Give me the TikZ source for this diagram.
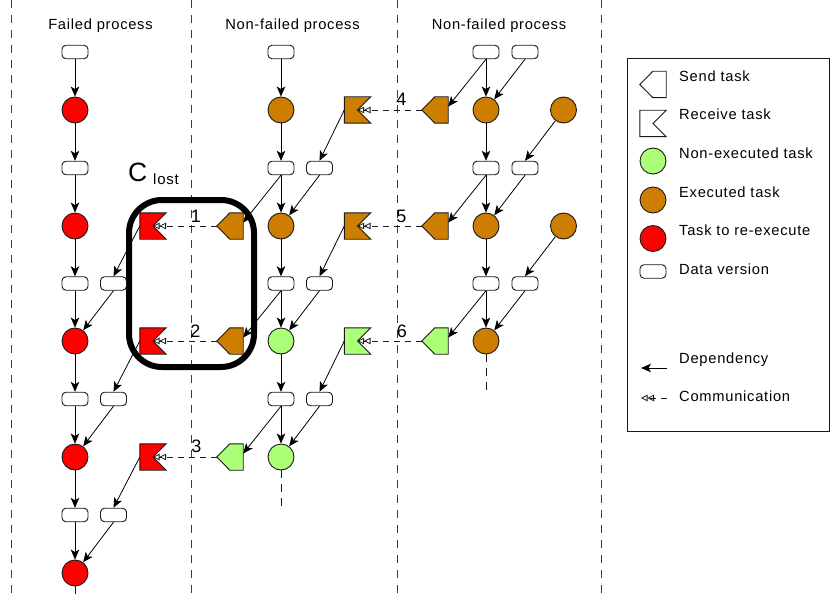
\documentclass[tikz,border=0pt]{standalone}
\usepackage{fontspec}
\setmainfont{Liberation Sans}[LetterSpace=5]
\usetikzlibrary{arrows.meta,calc}
\definecolor{tred}{RGB}{255,0,0}
\definecolor{torange}{RGB}{205,125,0}
\definecolor{tgreen}{RGB}{170,255,119}
\definecolor{ink}{RGB}{25,25,25}
% send task: pentagon pointing left; receive task: box with a notch on the right
\newcommand\mksend[3]{%
  \node[tbox] (#1) at (#2) {};
  \draw[shp, fill=#3] (#1.north east) -- (#1.south east) -- ([xshift=13pt]#1.south west) -- (#1.west) -- ([xshift=13pt]#1.north west) -- cycle;}
\newcommand\mkrecv[3]{%
  \node[tbox] (#1) at (#2) {};
  \draw[shp, fill=#3] (#1.north west) -- (#1.north east) -- (#1.center) -- (#1.south east) -- (#1.south west) -- cycle;}
\begin{document}
\begin{tikzpicture}[x=1pt,y=-1pt,
  every node/.style={font=\fontsize{14.7}{17}\selectfont},
  shp/.style={draw=ink, line width=0.9pt, line join=miter},
  tbox/.style={rectangle, minimum width=26pt, minimum height=26pt, inner sep=0pt},
  dv/.style={draw=ink, line width=0.9pt, rectangle, rounded corners=4pt, minimum width=26pt, minimum height=13.5pt, inner sep=0pt, fill=white},
  task/.style={draw=ink, line width=0.9pt, circle, minimum size=26pt, inner sep=0pt},
  fr/.style={fill=tred}, fo/.style={fill=torange}, fg/.style={fill=tgreen},
  dep/.style={draw=black, line width=0.8pt, -{Stealth[length=10pt,width=8.5pt,inset=2.5pt]}},
  comm/.style={draw=ink, line width=0.8pt, dash pattern=on 6pt off 5pt, -{Triangle[open,length=6.5pt,width=6.5pt,sep=0pt]Triangle[open,length=6.5pt,width=6.5pt]}},
  stub/.style={draw=ink, line width=0.8pt, dash pattern=on 8pt off 6pt},
  sep/.style={draw=ink!85, line width=0.9pt, dash pattern=on 8pt off 7pt},
  num/.style={font=\fontsize{18}{20}\selectfont, anchor=base, inner sep=0pt},
  lgd/.style={anchor=base west, inner sep=0pt},
  ttl/.style={anchor=base, inner sep=0pt}
]
\useasboundingbox (0,0) rectangle (830,599);

% separators
\foreach \xx/\nm in {11/v0,191/v1,397/v2,601/v3} {
  \coordinate (\nm t) at (\xx,0);
  \coordinate (\nm b) at (\xx,599);
  \draw[sep] (\nm t) -- (\nm b);
}

% titles
\node[ttl] (t1) at (100.5,30) {Failed process};
\node[ttl] (t2) at (292.5,30) {Non-failed process};
\node[ttl] (t3) at (499,30) {Non-failed process};

% C_lost region
\node[draw=black, line width=6pt, rounded corners=33pt, minimum width=125pt, minimum height=167pt, inner sep=0pt] (clost) at (191.5,283.5) {};
\node[anchor=base west, inner sep=0pt, font=\fontsize{26.5}{28}\selectfont] (cC) at (128,182) {C};
\node[anchor=base west, inner sep=0pt, font=\fontsize{15}{17}\selectfont] (cL) at (153,184) {lost};

% ---------- column 1 (failed) ----------
\node[dv] (a0) at (75,52) {};
\node[task,fr] (a1) at (75,110) {};
\node[dv] (a2) at (75,168) {};
\node[task,fr] (a3) at (75,226) {};
\node[dv] (a4) at (75,283.5) {};
\node[dv] (a4b) at (113.5,283.5) {};
\node[task,fr] (a5) at (75,341) {};
\node[dv] (a6) at (75,399) {};
\node[dv] (a6b) at (113.5,399) {};
\node[task,fr] (a7) at (75,457) {};
\node[dv] (a8) at (75,515) {};
\node[dv] (a8b) at (113.5,515) {};
\node[task,fr] (a9) at (75,573) {};
\mkrecv{r1}{153,226}{tred}
\mkrecv{r2}{153,341}{tred}
\mkrecv{r3}{153,457}{tred}
\coordinate (a9e) at (75,602);

% ---------- column 2 ----------
\node[dv] (b0) at (281,52) {};
\node[task,fo] (b1) at (281,110) {};
\node[dv] (b2) at (281,168) {};
\node[dv] (b2b) at (319.5,168) {};
\node[task,fo] (b3) at (281,226) {};
\node[dv] (b4) at (281,283.5) {};
\node[dv] (b4b) at (319.5,283.5) {};
\node[task,fg] (b5) at (281,341) {};
\node[dv] (b6) at (281,399) {};
\node[dv] (b6b) at (319.5,399) {};
\node[task,fg] (b7) at (281,457) {};
\mksend{s1}{230,226}{torange}
\mksend{s2}{230,341}{torange}
\mksend{s3}{230,457}{tgreen}
\mkrecv{r4}{357.5,110}{torange}
\mkrecv{r5}{357.5,226}{torange}
\mkrecv{r6}{357.5,341}{tgreen}
\coordinate (b7e) at (281,510);

% ---------- column 3 ----------
\node[dv] (c0) at (486,52) {};
\node[dv] (c0b) at (525,52) {};
\node[task,fo] (c1) at (486,110) {};
\node[task,fo] (d1) at (563.5,110) {};
\node[dv] (c2) at (486,168) {};
\node[dv] (c2b) at (525,168) {};
\node[task,fo] (c3) at (486,226) {};
\node[task,fo] (d3) at (563.5,226) {};
\node[dv] (c4) at (486,283.5) {};
\node[dv] (c4b) at (525,283.5) {};
\node[task,fo] (c5) at (486,341) {};
\mksend{s4}{435,110}{torange}
\mksend{s5}{435,226}{torange}
\mksend{s6}{435,341}{tgreen}
\coordinate (c5e) at (486,393);

% ---------- dependencies ----------
\draw[dep] (a0) -- (a1);
\draw[dep] (a1) -- (a2);
\draw[dep] (a2) -- (a3);
\draw[dep] (a3) -- (a4);
\draw[dep] (a4) -- (a5);
\draw[dep] (a4b.south) -- (a5);
\draw[dep] (a5) -- (a6);
\draw[dep] (a6) -- (a7);
\draw[dep] (a6b.south) -- (a7);
\draw[dep] (a7) -- (a8);
\draw[dep] (a8) -- (a9);
\draw[dep] (a8b.south) -- (a9);
\draw[dep] (r1.west) -- (a4b.north);
\draw[dep] (r2.west) -- (a6b.north);
\draw[dep] (r3.west) -- (a8b.north);

\draw[dep] (b0) -- (b1);
\draw[dep] (b1) -- (b2);
\draw[dep] (b2) -- (b3);
\draw[dep] (b2b.south) -- (b3);
\draw[dep] (b2.south) -- ([yshift=3.5pt]s1.east);
\draw[dep] (b3) -- (b4);
\draw[dep] (b4) -- (b5);
\draw[dep] (b4b.south) -- (b5);
\draw[dep] (b4.south) -- ([yshift=3.5pt]s2.east);
\draw[dep] (b5) -- (b6);
\draw[dep] (b6) -- (b7);
\draw[dep] (b6b.south) -- (b7);
\draw[dep] (b6.south) -- ([yshift=3.5pt]s3.east);
\draw[dep] (r4.west) -- (b2b.north);
\draw[dep] (r5.west) -- (b4b.north);
\draw[dep] (r6.west) -- (b6b.north);

\draw[dep] (c0) -- (c1);
\draw[dep] (c0b.south) -- (c1);
\draw[dep] (c0.south) -- ([yshift=3.5pt]s4.east);
\draw[dep] (c1) -- (c2);
\draw[dep] (d1) -- (c2b.north);
\draw[dep] (c2) -- (c3);
\draw[dep] (c2b.south) -- (c3);
\draw[dep] (c2.south) -- ([yshift=3.5pt]s5.east);
\draw[dep] (c3) -- (c4);
\draw[dep] (d3) -- (c4b.north);
\draw[dep] (c4) -- (c5);
\draw[dep] (c4b.south) -- (c5);
\draw[dep] (c4.south) -- ([yshift=3.5pt]s6.east);

% stubs
\draw[stub] (a9) -- (a9e);
\draw[stub] (b7) -- (b7e);
\draw[stub] (c5) -- (c5e);

% ---------- communications ----------
\draw[comm] (s1.west) -- (r1.center);
\draw[comm] (s2.west) -- (r2.center);
\draw[comm] (s3.west) -- (r3.center);
\draw[comm] (s4.west) -- (r4.center);
\draw[comm] (s5.west) -- (r5.center);
\draw[comm] (s6.west) -- (r6.center);
\node[num] (n1) at (196,222) {1};
\node[num] (n2) at (195.5,337) {2};
\node[num] (n3) at (196.5,452) {3};
\node[num] (n4) at (401.5,106) {4};
\node[num] (n5) at (401.5,222) {5};
\node[num] (n6) at (402,337) {6};

% ---------- legend ----------
\node[draw=ink, line width=0.9pt, rectangle, inner sep=0pt, minimum width=202pt, minimum height=373pt] (legend) at (728,244.5) {};
\mksend{ls}{653,84.5}{white}
\mkrecv{lr}{653,123.5}{white}
\node[task,fg] (lg) at (653,161) {};
\node[task,fo] (lo) at (653,200) {};
\node[task,fr] (lrd) at (653,238.5) {};
\node[dv] (ld) at (653,271.5) {};
\coordinate (ldepa) at (667,368);
\coordinate (ldepb) at (641,368);
\draw[dep] (ldepa) -- (ldepb);
\coordinate (lcoma) at (667,398);
\coordinate (lcomb) at (641,398);
\draw[comm] (lcoma) -- (lcomb);
\node[lgd] (l1) at (679,82) {Send task};
\node[lgd] (l2) at (679,120) {Receive task};
\node[lgd] (l3) at (679,158) {Non-executed task};
\node[lgd] (l4) at (679,197) {Executed task};
\node[lgd] (l5) at (679,235) {Task to re-execute};
\node[lgd] (l6) at (679,274) {Data version};
\node[lgd] (l7) at (679,363) {Dependency};
\node[lgd] (l8) at (679,401) {Communication};
\end{tikzpicture}
\end{document}
